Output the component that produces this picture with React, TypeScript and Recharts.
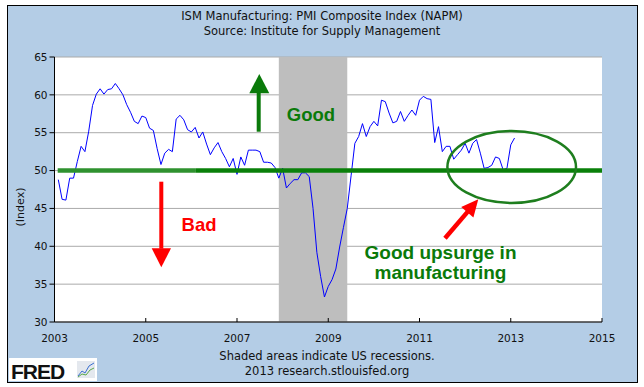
import React from 'react';
import { LineChart, Line, XAxis, YAxis, CartesianGrid, ReferenceArea, ReferenceLine } from 'recharts';

// ISM manufacturing PMI, monthly values (2003 begins in February)
const pmi2003 = [48.8, 46.2, 46.1, 49.0, 49.0, 51.2, 53.2, 52.5, 55.2, 58.6, 60.1];
const pmi2004 = [60.8, 60.1, 60.7, 60.8, 61.5, 60.8, 60.0, 58.7, 57.7, 56.5, 56.2, 57.2];
const pmi2005 = [57.0, 55.6, 55.3, 52.9, 50.8, 52.3, 52.8, 52.5, 56.8, 57.3, 56.7, 55.4];
const pmi2006 = [55.1, 55.7, 54.3, 55.1, 53.5, 52.1, 53.0, 53.7, 52.5, 51.6, 50.5, 51.6];
const pmi2007 = [49.5, 51.8, 50.7, 52.7, 52.7, 52.7, 52.5, 51.1, 51.1, 51.0, 50.4, 49.0];
const pmi2008 = [50.3, 47.7, 48.3, 48.8, 48.8, 49.7, 49.7, 49.2, 45.0, 39.2, 36.0, 33.3];
const pmi2009 = [34.7, 35.6, 37.0, 39.9, 42.5, 45.0, 49.3, 53.6, 54.5, 56.2, 54.5, 55.8];
const pmi2010 = [56.5, 55.9, 59.3, 59.1, 57.6, 56.3, 56.5, 57.8, 56.5, 57.3, 58.0, 57.3];
const pmi2011 = [59.3, 59.8, 59.5, 59.4, 53.7, 55.8, 52.5, 53.2, 53.2, 51.5, 52.1, 52.7];
const pmi2012 = [53.6, 52.3, 53.6, 54.1, 52.3, 50.3, 50.4, 50.7, 51.8, 51.6, 50.1, 50.3];
const pmi2013 = [53.4, 54.3];

const yearlySeries = [pmi2003, pmi2004, pmi2005, pmi2006, pmi2007, pmi2008, pmi2009, pmi2010, pmi2011, pmi2012, pmi2013];
const firstYear = 2003;
const firstMonth = 1; // February

const xTicks = [2003, 2005, 2007, 2009, 2011, 2013, 2015];
const yTicks = [30, 35, 40, 45, 50, 55, 60, 65];

// recession Dec 2007 - Jun 2009
const recessionStart = 2007 + 11 / 12;
const recessionEnd = 2009 + 5 / 12;

const data: { t: number; pmi: number }[] = [];
yearlySeries.forEach((vals, i) => {
  const start = i === 0 ? firstMonth : 0;
  vals.forEach((v, j) => data.push({ t: firstYear + i + (start + j) / 12, pmi: v }));
});

const font = '"DejaVu Sans", sans-serif';
const boldFont = '"Liberation Sans", Arial, sans-serif';
const green = '#0A7A0A';

function Overlay() {
  return (
    <svg width={644} height={387} style={{ position: 'absolute', left: 0, top: 0, pointerEvents: 'none' }}>
      <g fontFamily={font} fontSize={11.5} fill="#111" textAnchor="middle">
        <text x={322} y={20}>ISM Manufacturing: PMI Composite Index (NAPM)</text>
        <text x={322} y={35}>Source: Institute for Supply Management</text>
        <text x={327} y={360}>Shaded areas indicate US recessions.</text>
        <text x={327} y={375}>2013 research.stlouisfed.org</text>
        <text x={20} y={207} fontSize={11} transform="rotate(-90 20 207)" dominantBaseline="central">(Index)</text>
      </g>

      {/* FRED logo */}
      <rect x={9} y={358} width={88} height={23} fill="#fff" />
      <text x={11} y={379} fontFamily={boldFont} fontWeight="bold" fontSize={21} fill="#111" letterSpacing={-1}>FRED</text>
      <rect x={77} y={361} width={18} height={17} fill="#e4e8ee" />
      <polyline points="78,376 82,371 85,373 89,366 94,363" fill="none" stroke="#3a6fd0" strokeWidth={1} />
      <polyline points="78,377 82,374 86,375 90,370 94,368" fill="none" stroke="#5aa84a" strokeWidth={1} />

      {/* green up arrow */}
      <rect x={256.7} y={92} width={4} height={39.7} fill={green} />
      <polygon points="249.3,93.3 269.3,93.3 259.3,74" fill={green} />
      <text x={311} y={121} fontFamily={boldFont} fontWeight="bold" fontSize={18.5} fill={green} textAnchor="middle">Good</text>

      {/* red down arrow */}
      <rect x={159.3} y={181.7} width={4} height={67} fill="#ff0000" />
      <polygon points="151.7,248.3 171,248.3 161.3,267.3" fill="#ff0000" />
      <text x={199} y={231} fontFamily={boldFont} fontWeight="bold" fontSize={18.5} fill="#ff0000" textAnchor="middle">Bad</text>

      {/* red diagonal arrow */}
      <line x1={445} y1={238.3} x2={468} y2={211.4} stroke="#ff0000" strokeWidth={4.5} />
      <polygon points="478.3,199.3 473.4,217.4 461.2,207.0" fill="#ff0000" />

      <ellipse cx={511.7} cy={167} rx={64.3} ry={36} fill="none" stroke="#1E7E1E" strokeWidth={2.5} />
      <g fontFamily={boldFont} fontWeight="bold" fontSize={19} fill={green} textAnchor="middle">
        <text x={440.5} y={259}>Good upsurge in</text>
        <text x={440.5} y={279}>manufacturing</text>
      </g>
    </svg>
  );
}

export default function App() {
  return (
    <div style={{ position: 'fixed', left: 0, top: 0, width: 644, height: 387, background: '#fff' }}>
      <div style={{ position: 'absolute', left: 7, top: 5, width: 631, height: 378, background: '#B4CDE6', border: '1px solid #000', boxSizing: 'border-box' }} />
      <div style={{ position: 'absolute', left: 0, top: 0 }}>
        <LineChart width={644} height={387} data={data} margin={{ top: 57, right: 42, bottom: 0, left: 0 }}>
          <CartesianGrid vertical={false} stroke="#AAAAAA" fill="#ffffff" fillOpacity={1} />
          <ReferenceArea x1={recessionStart} x2={recessionEnd} y1={30} y2={65} fill="#BEBEBE" fillOpacity={1} stroke="none" />
          <XAxis
            type="number"
            dataKey="t"
            domain={[2003, 2015]}
            ticks={xTicks}
            allowDataOverflow
            height={65}
            stroke="#000"
            tickSize={-4}
            tickMargin={17}
            tick={{ fill: '#111', fontSize: 10.5, fontFamily: font }}
          />
          <YAxis
            domain={[30, 65]}
            ticks={yTicks}
            width={54.5}
            stroke="#000"
            tickSize={5}
            tickMargin={2}
            tick={{ fill: '#111', fontSize: 10.5, fontFamily: font }}
          />
          <Line type="linear" dataKey="pmi" stroke="#0000FF" strokeWidth={1} dot={false} isAnimationActive={false} />
          <ReferenceLine segment={[{ x: 2006.1, y: 50 }, { x: 2015, y: 50 }]} stroke="#0A800A" strokeWidth={4.5} zIndex={450} />
          <ReferenceLine segment={[{ x: 2003.07, y: 50 }, { x: 2006.1, y: 50 }]} stroke="#2F922F" strokeWidth={4.5} zIndex={450} />
        </LineChart>
      </div>
      <Overlay />
    </div>
  );
}
